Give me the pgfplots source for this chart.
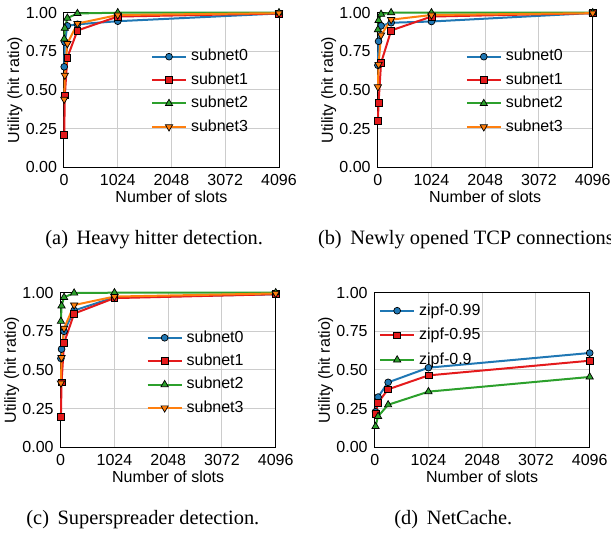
\documentclass[border=0pt]{standalone}
\usepackage{fontspec}
\setmainfont{Liberation Serif}
\setsansfont{Liberation Sans}
\usepackage{pgfplots}
\pgfplotsset{compat=1.18}
\definecolor{cb}{HTML}{1F77B4}
\definecolor{cr}{HTML}{E41A1C}
\definecolor{cg}{HTML}{2CA02C}
\definecolor{co}{HTML}{FF7F0E}
\newcommand{\axfont}{\sffamily\fontsize{8}{9.6}\selectfont}
\newcommand{\capfont}{\rmfamily\fontsize{10.2}{12}\selectfont}
\pgfplotsset{
  myaxis/.style={
    scale only axis, width=107.5pt, height=77.3pt,
    xmin=0, xmax=4096, ymin=0, ymax=1,
    xtick={0,1024,2048,3072,4096}, ytick={0,0.25,0.5,0.75,1},
    scaled x ticks=false,
    /pgf/number format/assume math mode=true,
    xticklabel style={/pgf/number format/set thousands separator={}},
    yticklabel style={/pgf/number format/.cd, fixed, fixed zerofill, precision=2},
    tick label style={font=\axfont},
    grid=major, major grid style={color=black!20, line width=0.5pt},
    major tick length=0pt,
    axis line style={line width=0.5pt},
    clip=false,
    xlabel={Number of slots}, ylabel={Utility (hit ratio)},
    every axis y label/.style={at={(axis description cs:-0.228,0.5)}, rotate=90, anchor=center, font=\axfont},
    every axis x label/.style={at={(axis description cs:0.5,-0.19)}, anchor=center, font=\axfont},
    legend style={draw=none, fill=none, font=\axfont, anchor=north west, row sep=0.4pt},
    legend cell align=left,
    legend image code/.code={\draw[mark repeat=2,mark phase=2,##1] plot coordinates {(0pt,0pt) (8.5pt,0pt) (17pt,0pt)};},
  },
  s0/.style={color=cb, line width=1pt, mark=*, mark size=1.7pt, mark options={fill=cb, draw=black, line width=0.35pt, solid}},
  s1/.style={color=cr, line width=1pt, mark=square*, mark size=1.7pt, mark options={fill=cr, draw=black, line width=0.35pt, solid}},
  s2/.style={color=cg, line width=1pt, mark=triangle*, mark size=2.1pt, mark options={fill=cg, draw=black, line width=0.35pt, solid}},
  s3/.style={color=co, line width=1pt, mark=triangle*, mark size=2.1pt, mark options={fill=co, draw=black, line width=0.35pt, solid, rotate=180}},
}
\begin{document}
\begin{tikzpicture}
% (a)
\begin{axis}[myaxis, at={(32pt,-83.65pt)}, anchor=south west,
  legend style={at={(rel axis cs:0.375,0.817)}}]
\addplot[s0] coordinates {(4,0.65) (16,0.81) (64,0.915) (256,0.925) (1024,0.945) (4096,0.995)};
\addplot[s1] coordinates {(4,0.21) (16,0.465) (64,0.71) (256,0.885) (1024,0.975) (4096,0.995)};
\addplot[s2] coordinates {(4,0.83) (16,0.90) (64,0.965) (256,0.995) (1024,1.0) (4096,1.0)};
\addplot[s3] coordinates {(4,0.44) (16,0.595) (64,0.80) (256,0.93) (1024,0.985) (4096,0.997)};
\legend{subnet0,subnet1,subnet2,subnet3}
\end{axis}
% (b)
\begin{axis}[myaxis, at={(188.85pt,-83.65pt)}, anchor=south west,
  legend style={at={(rel axis cs:0.38,0.817)}}]
\addplot[s0] coordinates {(4,0.66) (16,0.815) (64,0.915) (256,0.935) (1024,0.943) (4096,0.998)};
\addplot[s1] coordinates {(4,0.30) (16,0.415) (64,0.675) (256,0.885) (1024,0.975) (4096,0.997)};
\addplot[s2] coordinates {(4,0.89) (16,0.95) (64,0.99) (256,1.0) (1024,1.0) (4096,1.0)};
\addplot[s3] coordinates {(4,0.52) (16,0.665) (64,0.855) (256,0.955) (1024,0.985) (4096,0.997)};
\legend{subnet0,subnet1,subnet2,subnet3}
\end{axis}
% (c)
\begin{axis}[myaxis, at={(30.35pt,-223.65pt)}, anchor=south west,
  legend style={at={(rel axis cs:0.37,0.81)}}]
\addplot[s0] coordinates {(4,0.575) (16,0.635) (64,0.75) (256,0.885) (1024,0.97) (4096,0.99)};
\addplot[s1] coordinates {(4,0.195) (16,0.42) (64,0.675) (256,0.865) (1024,0.965) (4096,0.99)};
\addplot[s2] coordinates {(4,0.815) (16,0.915) (64,0.97) (256,0.998) (1024,1.0) (4096,1.0)};
\addplot[s3] coordinates {(4,0.415) (16,0.58) (64,0.77) (256,0.92) (1024,0.975) (4096,0.995)};
\legend{subnet0,subnet1,subnet2,subnet3}
\end{axis}
% (d)
\begin{axis}[myaxis, at={(187.35pt,-223.65pt)}, anchor=south west,
  legend style={at={(rel axis cs:-0.009,0.985)}, row sep=1pt}]
\addplot[s0] coordinates {(16,0.23) (64,0.325) (256,0.42) (1024,0.515) (4096,0.61)};
\addplot[s1] coordinates {(16,0.215) (64,0.29) (256,0.375) (1024,0.465) (4096,0.56)};
\addplot[s2] coordinates {(16,0.135) (64,0.20) (256,0.275) (1024,0.36) (4096,0.455)};
\legend{zipf-0.99,zipf-0.95,zipf-0.9}
\end{axis}
\node[anchor=base west, inner sep=0pt, font=\capfont] at (22.5pt,-122.5pt) {(a)\hspace{4.3pt}Heavy hitter detection.};
\node[anchor=base west, inner sep=0pt, font=\capfont] at (158.8pt,-122.5pt) {(b)\hspace{4.3pt}Newly opened TCP connections.};
\node[anchor=base west, inner sep=0pt, font=\capfont] at (13pt,-262.5pt) {(c)\hspace{4.3pt}Superspreader detection.};
\node[anchor=base west, inner sep=0pt, font=\capfont] at (197pt,-262.5pt) {(d)\hspace{4.3pt}NetCache.};
\pgfresetboundingbox
\useasboundingbox (0pt,0pt) rectangle (305.5pt,-266.5pt);
\end{tikzpicture}
\end{document}
